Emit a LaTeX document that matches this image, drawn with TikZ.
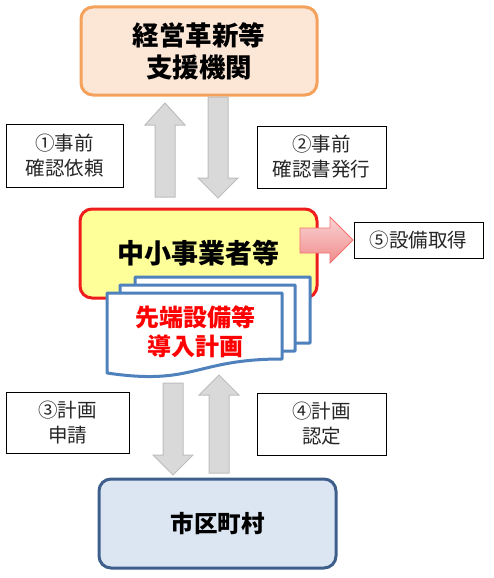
\documentclass[tikz,border=0pt]{standalone}
\usepackage{fontspec}
\setmainfont{Noto Sans CJK JP}
\usetikzlibrary{shapes.misc}
\definecolor{orangeB}{HTML}{F4A15C}
\definecolor{orangeF}{HTML}{FCE6D6}
\definecolor{redB}{HTML}{EE1C1C}
\definecolor{yellowF}{HTML}{FFFF99}
\definecolor{docB}{HTML}{4F81BD}
\definecolor{cityB}{HTML}{3E5F8C}
\definecolor{cityF}{HTML}{DCE6F2}
\definecolor{arrowF}{HTML}{D9D9D9}
\definecolor{arrowB}{HTML}{BDBDBD}
\definecolor{pinkL}{HTML}{FBD3D3}
\definecolor{pinkD}{HTML}{F08C8C}
\definecolor{labelT}{HTML}{262626}
\newcommand\docshape[2]{%
  \draw[docst] (#1,#2) -- ({#1+175},#2) -- ({#1+175},{#2+66})
    .. controls ({#1+87.5},{#2+66}) and ({#1+87.5},{#2+93}) .. (#1,{#2+80}) -- cycle;}
\newcommand\uparrowblk[4]{% center x, tip y, head base y, bottom y
  \draw[garrow] ({#1-10},#4) -- ({#1-10},#3) -- ({#1-20},#3) -- (#1,#2)
    -- ({#1+20},#3) -- ({#1+10},#3) -- ({#1+10},#4) -- cycle;}
\newcommand\downarrowblk[4]{% center x, top y, head base y, tip y
  \draw[garrow] ({#1-10},#2) -- ({#1-10},#3) -- ({#1-20},#3) -- (#1,#4)
    -- ({#1+20},#3) -- ({#1+10},#3) -- ({#1+10},#2) -- cycle;}
\begin{document}
\begin{tikzpicture}[x=1pt,y=-1pt,
  rbox/.style={rounded corners=12pt, line width=3pt, align=center, inner sep=0pt},
  lbl/.style={draw=black, line width=0.8pt, fill=white, text=labelT,
    font=\fontsize{19.5}{25}\selectfont, align=center, inner sep=0pt},
  garrow/.style={fill=arrowF, draw=arrowB, line width=1pt},
  docst/.style={fill=white, draw=docB, line width=3pt, line join=round}
]
\useasboundingbox (0,0) rectangle (493,578);
% top box
\node[rbox, draw=orangeB, fill=orangeF, minimum width=236, minimum height=88,
  font=\fontsize{26.5}{32}\selectfont\bfseries] (top) at (199,51) {経営革新等\\支援機関};
% grey arrows upper
\uparrowblk{165}{103}{125}{197}
\downarrowblk{218}{97}{178}{198}
% labels upper
\node[lbl, minimum width=117, minimum height=63] (l1) at (64.5,155.5) {①事前\\確認依頼};
\node[lbl, minimum width=129, minimum height=62] (l2) at (321.5,157) {②事前\\確認書発行};
% middle box
\node[rbox, draw=redB, fill=yellowF, minimum width=237, minimum height=89,
  font=\fontsize{27}{32}\selectfont\bfseries] (mid) at (198.5,253.5) {\raisebox{-4pt}{中小事業者等}};
% red arrow
\draw[top color=pinkL, bottom color=pinkD, draw=pinkD!80!red, line width=0.8pt]
  (300,228) -- (330,228) -- (330,217) -- (353,240) -- (330,263) -- (330,253) -- (300,253) -- cycle;
\node[lbl, minimum width=129, minimum height=36] (l5) at (418.5,240) {⑤設備取得};
% documents
\docshape{135}{277}
\docshape{120}{285}
\docshape{107}{293}
\node[text=red, align=center, font=\fontsize{24}{29}\selectfont\bfseries] (plan) at (195,332) {先端設備等\\導入計画};
% grey arrows lower
\downarrowblk{173}{383}{455}{475}
\uparrowblk{219}{375}{395}{473}
% labels lower
\node[lbl, minimum width=123, minimum height=61] (l3) at (67.5,422.5) {③計画\\申請};
\node[lbl, minimum width=129, minimum height=62] (l4) at (321.5,424) {④計画\\認定};
% bottom box
\node[rbox, draw=cityB, fill=cityF, minimum width=237, minimum height=89,
  font=\fontsize{23.5}{30}\selectfont\bfseries] (city) at (217.5,523.5) {市区町村};
\end{tikzpicture}
\end{document}
